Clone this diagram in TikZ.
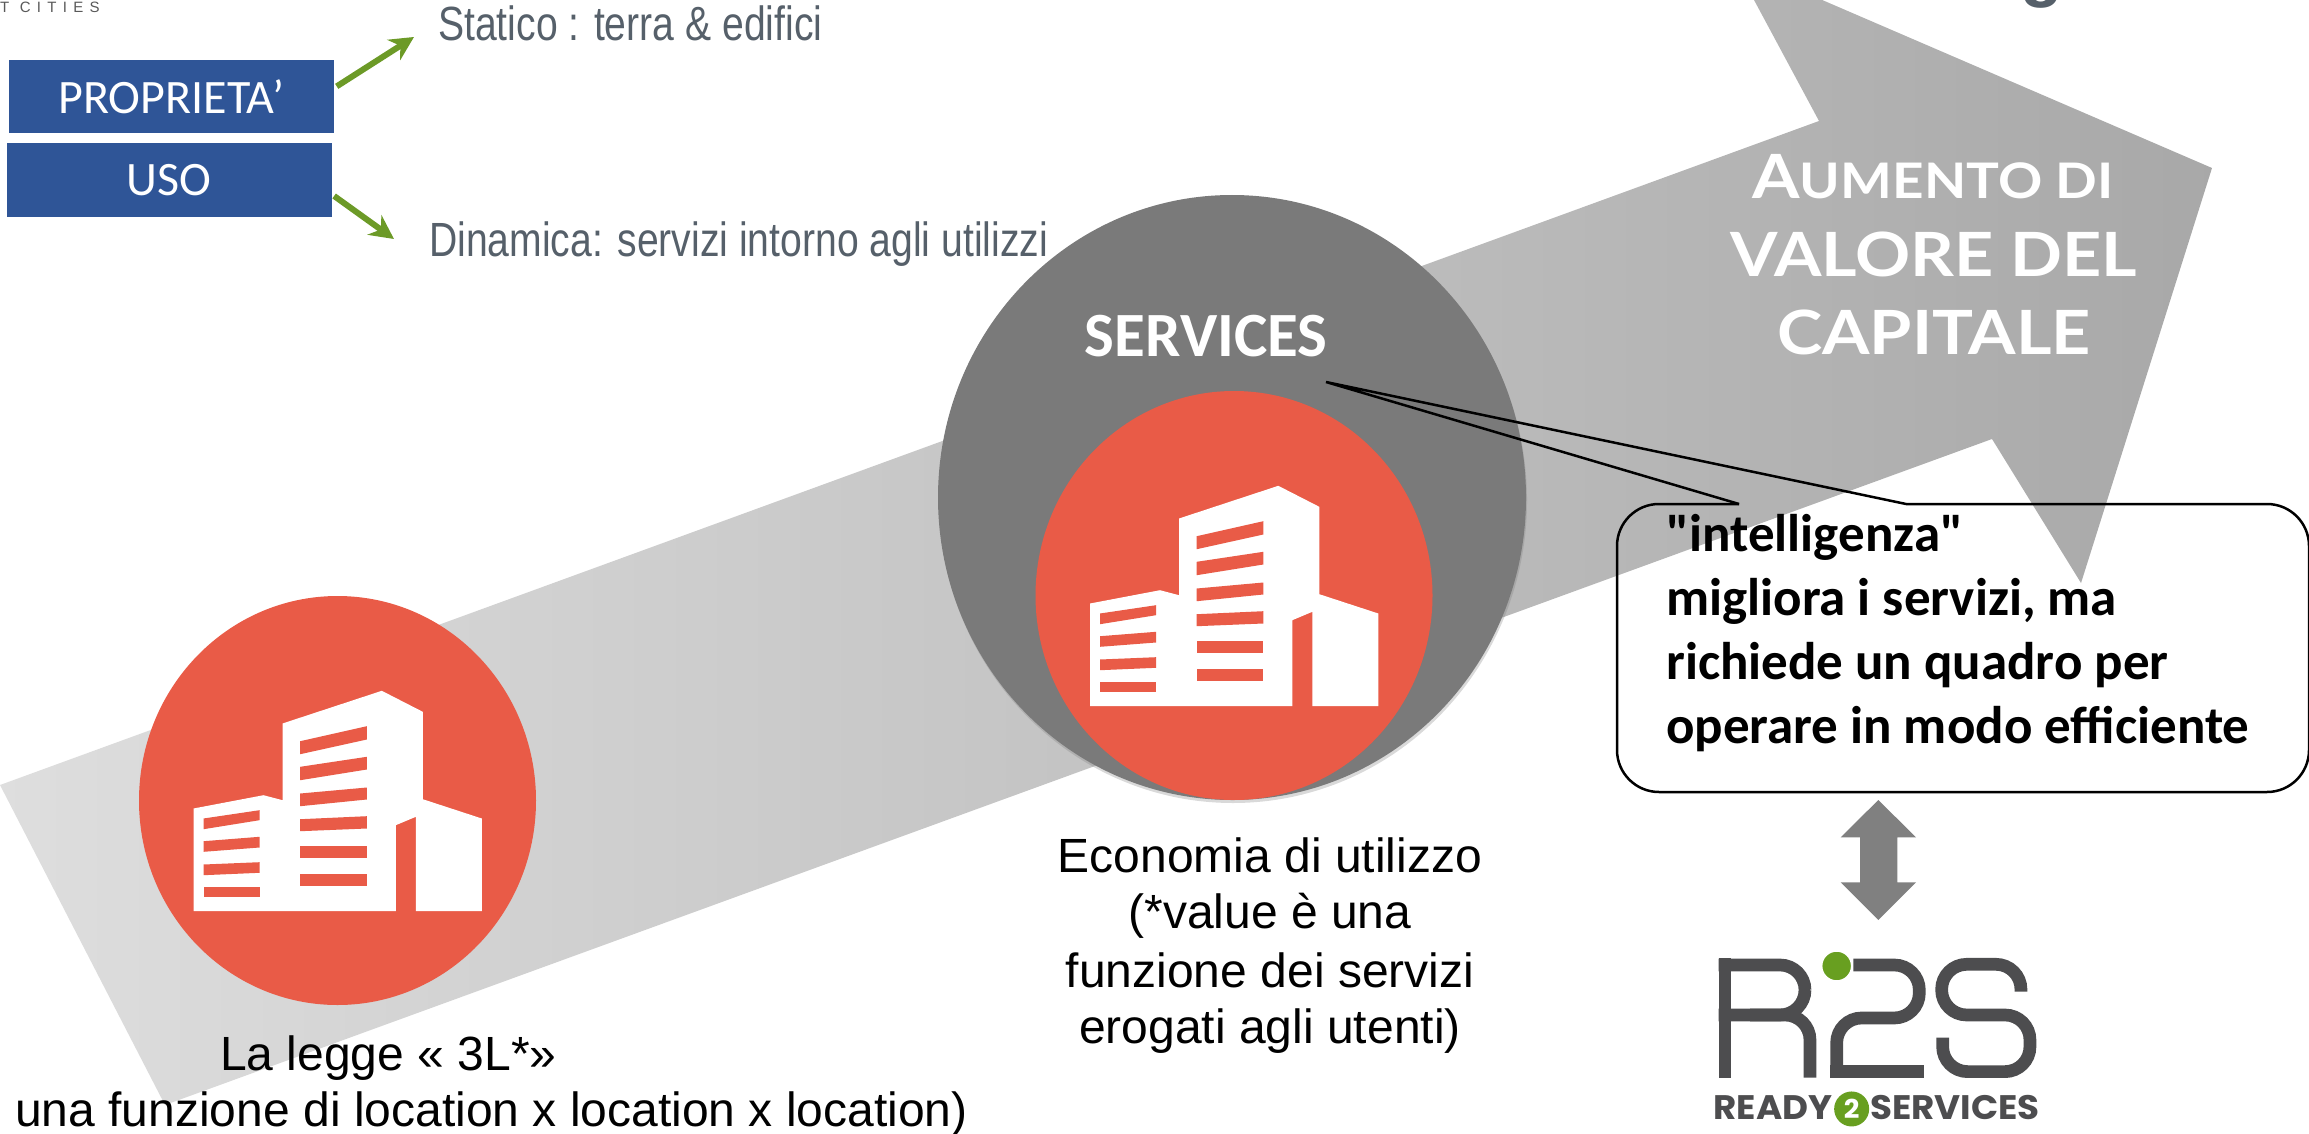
\documentclass[tikz,border=0pt]{standalone}
\usepackage{fontspec}
\usetikzlibrary{shadows,shapes.geometric,arrows.meta}
\setmainfont{Liberation Sans}
\newfontfamily\carlito{Carlito}
\newfontfamily\latofont[FakeStretch=1.12]{Lato}
\newfontfamily\poppfont[FakeStretch=1.05]{Poppins}
\newfontfamily\narrowfont[FakeStretch=0.815]{Liberation Sans}
\newfontfamily\logofont[LetterSpace=42]{Liberation Sans}
\definecolor{coral}{HTML}{E95B47}
\definecolor{boxblue}{HTML}{2F5597}
\definecolor{leaf}{HTML}{6C9A27}
\definecolor{slate}{HTML}{56606A}
\definecolor{logogray}{HTML}{4D4D4F}
\definecolor{logogreen}{HTML}{689F20}
\tikzset{
	redcirc/.style={ellipse,fill=coral,minimum width=397pt,minimum height=409pt,inner sep=0pt},
	bluebox/.style={fill=boxblue,text=white,minimum width=325pt,minimum height=73pt,inner sep=0pt,font=\carlito\fontsize{48}{58}\selectfont},
	greenarrow/.style={-{Stealth[length=24pt,width=24pt]},leaf,line width=6pt,shorten <=3pt},
	greytext/.style={anchor=base west,inner sep=0pt,text=slate,font=\narrowfont\fontsize{48}{57}\selectfont},
	blacktext/.style={inner sep=0pt,font=\fontsize{48}{57}\selectfont},
	whitetitle/.style={anchor=base,inner sep=0pt,text=white,font=\latofont\bfseries\fontsize{61}{70}\selectfont},
	calltext/.style={anchor=base west,inner sep=0pt,font=\carlito\bfseries\fontsize{53}{64}\selectfont},
	bubble/.style={black,line width=2.5pt},
	logostroke/.style={logogray,line width=12.7pt,rounded corners=25pt},
	building/.pic={
		\fill[white] (-144,8) -- (-74,-5.3) -- (-55,-0.3) -- (-55,-77) -- (44.3,-109.7) -- (85.3,-88.7) -- (85.3,-1.3) -- (144.3,18) -- (144.3,110.7) -- (78.3,110.7) -- (78.3,16.3) -- (58.3,24.7) -- (58.3,110.7) -- (-144,110.7) -- cycle;
		\foreach \la/\lb/\ra/\rb in {-59.3/-46.3/-74.3/-61,-33.7/-20.3/-43.7/-31,-7/5.7/-13/-1,18.7/30.7/15.7/28,45.3/57.3/45.3/57.3,73.7/85.7/73.7/85.7}
			\fill[coral] (-37.3,\la) -- (29.3,\ra) -- (29.3,\rb) -- (-37.3,\lb) -- cycle;
		\foreach \la/\lb/\ra/\rb in {18/28.7/9.7/19.7,40.7/51.3/36.3/47,64/74.7/61.7/72.3,86.7/96.7/86.7/96.7}
			\fill[coral] (-134,\la) -- (-78,\ra) -- (-78,\rb) -- (-134,\lb) -- cycle;
	}
}
\begin{document}
\begin{tikzpicture}[x=1pt,y=-1pt]
	\useasboundingbox (0,0) rectangle (2309,1134);
	\clip (0,0) rectangle (2309,1134);
	\shade[left color=black!13,right color=black!34] (0,785) -- (1819,121) -- (1754,0) -- (1734,-38) -- (2212,168) -- (2081,583) -- (1992,439) -- (165,1105) -- cycle;
	\node[ellipse,fill=black!52,minimum width=588pt,minimum height=605pt,inner sep=0pt,drop shadow={shadow xshift=1pt,shadow yshift=-3pt,opacity=.3}] (svc) at (1232,497.5) {};
	\node[redcirc] (plain) at (337.5,800.5) {};
	\node[redcirc] (inner) at (1234,595.5) {};
	\pic at (plain.center) {building};
	\pic at (inner.center) {building};
	\node[anchor=base west,inner sep=0pt,text=black!65,font=\logofont\fontsize{15}{18}\selectfont] (cities) at (0,13) {T CITIES};
	\node[anchor=base,inner sep=0pt,text=slate,font=\bfseries\fontsize{70}{80}\selectfont] (titleg) at (2042,-6) {g};
	\node[bluebox] (prop) at (171.5,96.5) {PROPRIETA’};
	\node[bluebox] (uso) at (169,180) {USO};
	\node[greytext] (stat) at (438,41) {Statico : terra \& edifici};
	\node[greytext] (dyn) at (429,256) {Dinamica: servizi intorno agli utilizzi};
	\coordinate (statend) at (414,37);
	\coordinate (dynend) at (394,239);
	\draw[greenarrow] (prop.3) -- (statend);
	\draw[greenarrow] (uso.-5) -- (dynend);
	\node[whitetitle] (aum) at (1933,199) {A{\fontsize{49}{70}\selectfont UMENTO DI}};
	\node[whitetitle] (val) at (1934,276) {VALORE DEL};
	\node[whitetitle] (cap) at (1934,354) {CAPITALE};
	\node[anchor=base,inner sep=0pt,text=white,font=\carlito\bfseries\fontsize{63}{70}\selectfont] (serv) at (1206,356) {SERVICES};
	\coordinate (tail) at (1326,382);
	\draw[bubble] (1739,504) -- (tail) -- (1906,504);
	\draw[bubble,rounded corners=42pt] (1906,504) -- (2309,504) -- (2309,792) -- (1617,792) -- (1617,504) -- (1739,504);
	\node[calltext] (l1) at (1666,551) {"intelligenza"};
	\node[calltext] (l2) at (1666,615) {migliora i servizi, ma};
	\node[calltext] (l3) at (1666,679) {richiede un quadro per};
	\node[calltext] (l4) at (1666,743) {operare in modo efficiente};
	\node[blacktext,anchor=base west] (legge) at (220,1070) {La legge « 3L*»};
	\node[blacktext,anchor=base west] (funz) at (15,1126) {una funzione di location x location x location)};
	\node[blacktext,anchor=base] (econ) at (1270,872) {Economia di utilizzo};
	\node[blacktext,anchor=base] (econb) at (1270,928) {(*value è una};
	\node[blacktext,anchor=base] (econc) at (1270,987) {funzione dei servizi};
	\node[blacktext,anchor=base] (econd) at (1270,1043) {erogati agli utenti)};
	\fill[black!50] (1878.3,800) -- (1916,837.3) -- (1897.3,837.3) -- (1897.3,882.3) -- (1916,882.3) -- (1878.3,920) -- (1840.7,882.3) -- (1860,882.3) -- (1860,837.3) -- (1840.7,837.3) -- cycle;
	\begin{scope}[shift={(1650,780)},x=.3333pt,y=-.3333pt]
		\draw[logogray,line width=12.7pt] (225,893) -- (225,535);
		\draw[logostroke] (206,555) -- (465,555) -- (465,705) -- (206,705);
		\draw[logostroke] (300,705) -- (480,705) -- (480,893);
		\draw[logostroke] (610,555) -- (808,555) -- (808,714) -- (560,714) -- (560,881);
		\draw[logogray,line width=12.7pt] (541,875) -- (822,875);
		\draw[logostroke] (1113,635) -- (1113,553) -- (875,553) -- (875,705) -- (1140,705) -- (1140,875) -- (878,875) -- (878,773);
		\node[circle,fill=logogreen,draw=white,line width=1.5pt,minimum size=30pt,inner sep=0pt] (dot) at (560,558) {};
		\node[anchor=base east,inner sep=0pt,text=logogray,font=\poppfont\bfseries\fontsize{34}{38}\selectfont] (ready) at (548,1020) {READY};
		\node[circle,fill=logogreen,minimum size=35pt,inner sep=0pt,text=white,font=\poppfont\bfseries\fontsize{26}{30}\selectfont] (two) at (605,987) {2};
		\node[anchor=base west,inner sep=0pt,text=logogray,font=\poppfont\bfseries\fontsize{34}{38}\selectfont] (services) at (660,1020) {SERVICES};
	\end{scope}
\end{tikzpicture}
\end{document}
